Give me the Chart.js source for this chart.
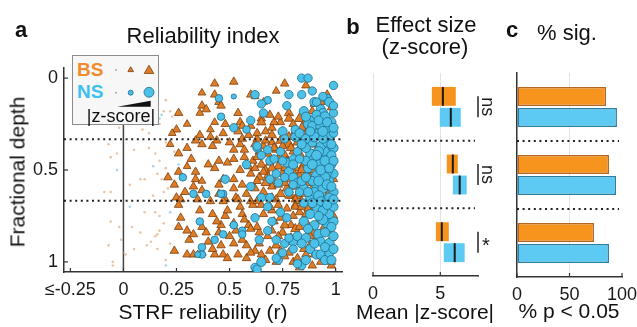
<!DOCTYPE html>
<html><head><meta charset="utf-8">
<script src="https://cdn.jsdelivr.net/npm/chart.js"></script>
<style>
html,body{margin:0;padding:0;background:#fff;}
body{width:637px;height:327px;position:relative;overflow:hidden;font-family:"Liberation Sans",Arial,sans-serif;color:#111;}
canvas{position:absolute;top:0;}
.t{position:absolute;white-space:nowrap;line-height:1;}
.c{transform:translateX(-50%);}
</style></head><body>
<canvas id="ca" width="350" height="327" style="left:0px"></canvas>
<canvas id="cb" width="140" height="327" style="left:360px"></canvas>
<canvas id="cc" width="160" height="327" style="left:500px"></canvas>

<div class="t c" style="left:21px;top:19.4px;font-size:22px;font-weight:bold">a</div>
<div class="t c" style="left:203px;top:25.4px;font-size:22px">Reliability index</div>
<div class="t c" style="left:353px;top:16.4px;font-size:22px;font-weight:bold">b</div>
<div class="t c" style="left:426px;top:14.4px;font-size:22px">Effect size</div>
<div class="t c" style="left:425px;top:36.4px;font-size:22px">(z-score)</div>
<div class="t c" style="left:512px;top:19.4px;font-size:22px;font-weight:bold">c</div>
<div class="t c" style="left:567px;top:22.4px;font-size:22px">% sig.</div>
<div class="t c" style="left:203px;top:300.8px;font-size:21px">STRF reliability (r)</div>
<div class="t c" style="left:425px;top:300.7px;font-size:21px">Mean |z-score|</div>
<div class="t c" style="left:569px;top:300.2px;font-size:21px">% p &lt; 0.05</div>
<div class="t" style="left:17px;top:172px;font-size:21px;transform:translate(-50%,-50%) rotate(-90deg)">Fractional depth</div>

<div id="lg" style="position:absolute;left:72px;top:55px;width:87px;height:70px;box-sizing:border-box;border:1px solid #8c8c8c;background:#f7f7f7;">
  <div class="t" style="left:4px;top:3.9px;font-size:19px;font-weight:bold;color:#f08c2e">BS</div>
  <div class="t" style="left:4px;top:25.9px;font-size:19px;font-weight:bold;color:#40c0ef">NS</div>
  <svg width="85" height="68" style="position:absolute;left:0;top:0">
    <circle cx="43" cy="14" r="1" fill="#aaa"/>
    <polygon points="57.7,10.8 54.9,15.6 60.5,15.6" fill="#df7d26" stroke="#7a3d0c" stroke-width="0.8"/>
    <polygon points="76,9.2 71.24,17.45 80.76,17.45" fill="#df7d26" stroke="#7a3d0c" stroke-width="0.8"/>
    <circle cx="43" cy="36.7" r="1" fill="#aaa"/>
    <circle cx="57.7" cy="36.7" r="2.5" fill="#4cc0e6" stroke="#1d6f8f" stroke-width="0.8"/>
    <circle cx="76" cy="36.3" r="5" fill="#4cc0e6" stroke="#1d6f8f" stroke-width="0.8"/>
    <polygon points="44.3,50.7 77.7,44.7 77.7,50.7" fill="#111"/>
  </svg>
  <div class="t c" style="left:48px;top:50.8px;font-size:18px">|z-score|</div>
</div>

<script>
// ---------- data ----------
const depthGroups = ['Superficial', 'Middle', 'Deep'];
const xTicksA = [-0.25, 0, 0.25, 0.5, 0.75, 1];
const xTickLabelsA = ['\u2264-0.25', '0', '0.25', '0.5', '0.75', '1'];
const yTicksA = [0, 0.5, 1];
const yTickLabelsA = ['0', '0.5', '1'];
const depthBounds = [1/3, 2/3];

// [reliability r, fractional depth, |z-score|]
const bsPoints = [
 [0.43,0.03,6],[0.52,0.02,6],[0.76,0.03,6],[0.86,0.04,6],[0.37,0.08,5],[0.43,0.09,6],[0.60,0.09,6],[0.62,0.10,5],
 [0.45,0.13,6],[0.46,0.15,6],[0.37,0.15,6],[0.39,0.17,6],[0.36,0.19,5],[0.26,0.19,6],[0.54,0.19,6],[0.65,0.22,6],
 [0.78,0.19,7],[0.83,0.22,8],[0.78,0.22,7],[0.74,0.24,6],[0.65,0.24,7],[0.48,0.25,6],[0.55,0.24,6],[0.56,0.26,6],
 [0.41,0.28,5],[0.60,0.26,6],[0.47,0.30,6],[0.67,0.29,6],[0.70,0.31,7],[0.75,0.29,6],[0.86,0.30,7],[0.93,0.13,6],
 [0.90,0.14,6],[0.96,0.09,6],[0.98,0.16,6],[0.89,0.18,6],[0.25,0.28,6],[0.23,0.30,5],[0.95,0.20,6],[0.92,0.25,6],
 [0.97,0.28,6],[0.89,0.27,6],[0.81,0.29,7],[0.70,0.27,6],[0.54,0.29,6],[0.43,0.24,5],[0.30,0.25,5],[0.36,0.31,6],
 [0.66,0.13,5],[0.72,0.07,5],[0.69,0.20,6],[0.41,0.32,6],[0.59,0.31,6],[0.78,0.32,7],[0.88,0.32,6],[0.94,0.31,6],
 [0.44,0.34,6],[0.37,0.36,6],[0.42,0.37,6],[0.52,0.39,6],[0.55,0.36,6],[0.57,0.43,6],[0.45,0.45,6],[0.49,0.46,6],
 [0.43,0.49,6],[0.59,0.48,6],[0.22,0.36,5],[0.26,0.41,6],[0.30,0.38,6],[0.32,0.44,6],[0.34,0.34,6],[0.21,0.54,6],
 [0.26,0.51,6],[0.34,0.51,6],[0.34,0.55,6],[0.33,0.59,6],[0.29,0.62,6],[0.25,0.65,6],[0.47,0.55,6],[0.52,0.55,6],
 [0.56,0.58,6],[0.45,0.58,6],[0.52,0.60,6],[0.37,0.61,6],[0.41,0.67,6],
 [0.62,0.36,6],[0.66,0.37,7],[0.70,0.35,6],[0.74,0.34,7],[0.78,0.36,8],[0.82,0.35,7],[0.86,0.34,6],[0.90,0.36,7],
 [0.95,0.35,6],[0.64,0.40,6],[0.68,0.41,7],[0.72,0.39,6],[0.76,0.42,7],[0.80,0.40,6],[0.84,0.43,7],[0.88,0.41,6],
 [0.93,0.42,6],[0.61,0.45,6],[0.65,0.47,7],[0.69,0.46,6],[0.73,0.48,7],[0.77,0.45,6],[0.81,0.49,7],[0.85,0.47,8],
 [0.89,0.50,7],[0.96,0.48,6],[0.60,0.52,6],[0.64,0.54,7],[0.68,0.53,6],[0.71,0.56,7],[0.75,0.52,6],[0.79,0.55,7],
 [0.83,0.53,6],[0.87,0.57,7],[0.91,0.55,6],[0.62,0.60,6],[0.66,0.62,7],[0.70,0.59,6],[0.74,0.63,7],[0.78,0.61,6],
 [0.82,0.64,7],[0.86,0.60,6],[0.90,0.63,7],[0.94,0.61,6],[0.98,0.65,6],[0.55,0.50,6],[0.52,0.44,6],[0.58,0.63,6],
 [0.48,0.66,6],[0.53,0.65,6],[0.37,0.56,5],[0.40,0.47,6],[0.30,0.48,5],[0.24,0.58,6],[0.27,0.66,6],[0.35,0.66,6],
 [0.45,0.63,6],[0.60,0.67,6],[0.72,0.66,6],[0.84,0.67,6],[0.57,0.39,6],[0.50,0.35,6],[0.63,0.43,6],[0.79,0.38,7],
 [0.92,0.46,6],[0.97,0.58,6],[0.67,0.50,6],[0.73,0.44,6],[0.86,0.52,6],[0.73,0.58,6],[0.77,0.60,7],[0.79,0.64,6],
 [0.81,0.66,6],[0.83,0.73,6],[0.80,0.75,6],
 [0.55,0.70,6],[0.48,0.75,6],[0.46,0.80,6],[0.37,0.81,6],[0.52,0.79,6],[0.64,0.84,6],[0.40,0.89,6],[0.46,0.91,6],
 [0.52,0.90,6],[0.43,0.96,6],[0.58,0.91,6],[0.62,0.94,6],[0.65,0.96,6],[0.98,1.00,6],[0.83,1.03,6],[0.26,0.69,6],
 [0.27,0.76,6],[0.26,0.81,6],[0.30,0.83,6],[0.31,0.88,6],[0.24,0.94,6],[0.30,0.96,6],[0.33,0.96,6],[0.35,0.96,5],
 [0.47,0.67,6],[0.54,0.66,6],[0.61,0.69,6],[0.63,0.67,6],[0.70,0.65,6],[0.59,0.80,6],[0.60,0.82,6],[0.63,0.81,6],
 [0.47,0.96,6],[0.37,0.95,6],[0.72,0.91,7],[0.74,0.94,6],[0.79,0.87,7],[0.83,0.89,6],[0.88,0.91,7],[0.90,0.96,6],
 [0.95,0.98,6],[0.79,0.80,6],[0.81,0.82,7],[0.85,0.78,6],[0.89,0.84,7],[0.92,0.85,6],[0.93,0.89,6],[0.78,0.64,6],
 [0.81,0.69,6],[0.70,0.72,6],[0.74,0.76,6],[0.66,0.74,6],[0.86,0.74,6],[0.95,0.72,6],[0.92,0.78,6],[0.97,0.83,6],
 [0.68,0.86,6],[0.75,0.84,7],[0.78,0.95,6],[0.86,0.96,6],[0.93,1.00,6],[0.72,1.00,6],[0.58,0.98,6],[0.88,0.86,6],
 [0.96,0.92,6],[0.99,0.75,6],[0.64,0.90,6],[0.81,0.70,6],[0.90,0.70,6],[0.56,0.74,6],[0.42,0.74,6],[0.50,0.86,6],
 [0.54,0.96,6],[0.98,1.02,6],[0.89,1.02,6],[0.80,1.00,6],[0.36,0.72,6],[0.33,0.85,6],[0.45,0.84,6],
 [0.63,0.33,6],[0.67,0.34,6],[0.71,0.38,7],[0.75,0.37,6],[0.83,0.38,6],[0.87,0.44,7],[0.91,0.39,6],[0.97,0.41,6],
 [0.62,0.49,6],[0.66,0.51,6],[0.70,0.49,7],[0.76,0.49,6],[0.80,0.51,6],[0.84,0.50,7],[0.88,0.54,6],[0.93,0.52,6],
 [0.99,0.55,6],[0.63,0.56,6],[0.67,0.57,7],[0.76,0.57,6],[0.81,0.59,7],[0.85,0.63,6],[0.89,0.60,6],[0.93,0.64,7],
 [0.97,0.62,6],[0.65,0.69,6],[0.69,0.70,7],[0.73,0.69,6],[0.77,0.71,6],[0.84,0.70,7],[0.87,0.71,6],[0.93,0.75,6],
 [0.96,0.77,7],[0.71,0.78,6],[0.76,0.80,7],[0.83,0.81,6],[0.87,0.80,6],[0.94,0.82,6],[0.98,0.87,6],[0.70,0.83,6],
 [0.73,0.86,6],[0.77,0.89,6],[0.85,0.93,6],[0.91,0.88,6],[0.95,0.94,6],[0.69,0.94,6],[0.76,0.97,6],[0.82,0.98,6],
 [0.67,0.99,6],[0.60,0.95,6],[0.56,0.88,6],[0.53,0.83,6],[0.57,0.77,6],[0.49,0.72,6],[0.44,0.78,6],[0.39,0.84,6],
 [0.42,0.93,6],[0.49,0.98,6],[0.71,0.24,6],[0.80,0.25,6],[0.84,0.27,7],[0.73,0.21,6],[0.86,0.23,6],[0.91,0.22,6],
 [0.63,0.30,6],[0.56,0.33,6]
];
const nsPoints = [
 [0.84,0.00,6],[0.87,0.00,6],[0.99,0.04,6],[0.89,0.07,6],[0.78,0.09,6],[0.84,0.09,6],[0.96,0.11,6],[0.45,0.11,5],
 [0.62,0.09,6],[0.68,0.12,5],[0.65,0.14,6],[0.77,0.15,6],[0.90,0.13,7],[0.66,0.19,6],[0.85,0.18,7],[0.46,0.21,5],
 [0.60,0.23,6],[0.52,0.27,6],[0.58,0.28,5],[0.88,0.23,7],[0.87,0.25,7],[0.91,0.13,6],[0.93,0.17,7],[0.94,0.19,7],
 [0.91,0.20,7],[0.95,0.21,8],[0.98,0.24,7],[0.89,0.26,7],[0.93,0.26,8],[0.96,0.28,7],[0.99,0.19,6],[0.92,0.30,7],
 [0.97,0.32,8],[0.75,0.29,7],[0.81,0.32,7],[0.76,0.33,6],[0.81,0.28,6],[0.83,0.30,7],[0.99,0.30,6],[0.52,0.10,2],
 [0.63,0.38,6],[0.63,0.37,6],[0.68,0.39,6],[0.65,0.42,6],[0.69,0.45,6],[0.77,0.46,7],[0.80,0.44,6],[0.88,0.41,7],
 [0.90,0.44,8],[0.93,0.43,8],[0.95,0.40,7],[0.99,0.38,7],[0.97,0.44,8],[0.94,0.48,8],[0.99,0.52,7],[0.91,0.53,8],
 [0.87,0.49,7],[0.92,0.47,8],[0.78,0.51,7],[0.80,0.54,7],[0.69,0.55,6],[0.48,0.55,6],[0.28,0.54,5],[0.39,0.63,5],
 [0.47,0.63,5],[0.69,0.65,6],[0.82,0.57,7],[0.85,0.60,7],[0.78,0.62,6],[0.91,0.58,8],[0.94,0.60,8],[0.97,0.56,7],
 [0.99,0.62,7],[0.88,0.65,7],[0.95,0.66,7],[0.86,0.38,7],[0.82,0.40,6],[0.74,0.40,6],[0.89,0.35,7],[0.93,0.37,7],
 [0.96,0.35,7],[0.98,0.47,7],[0.33,0.63,5],[0.84,0.56,7],[0.96,0.51,8],[0.90,0.62,7],[0.98,0.42,7],[0.73,0.57,6],
 [0.92,0.40,8],[0.95,0.54,8],[0.89,0.56,7],
 [0.36,0.78,5],[0.56,0.83,5],[0.64,0.88,6],[0.68,0.83,6],[0.74,0.73,6],[0.77,0.76,6],[0.72,0.88,6],[0.80,0.89,7],
 [0.76,0.90,6],[0.82,0.86,7],[0.86,0.87,7],[0.88,0.93,7],[0.92,0.85,8],[0.93,0.89,7],[0.97,0.90,8],[0.96,0.79,8],
 [0.99,0.78,7],[0.97,0.74,7],[0.73,0.99,6],[0.62,1.03,6],[0.63,1.04,6],[0.37,0.96,5],[0.91,0.96,7],[0.93,0.96,7],
 [0.65,0.65,6],[0.62,0.76,6],[0.52,0.80,5],[0.47,0.85,5],[0.43,0.88,5],[0.78,0.87,6],[0.65,1.00,7],[0.84,1.02,6],
 [0.37,0.92,5],[0.35,0.96,3],[0.72,0.98,6],[0.91,0.70,7],[0.94,0.72,7],[0.99,0.70,7],[0.88,0.74,7],[0.85,0.78,7],
 [0.90,0.80,7],[0.95,0.99,7],[0.97,0.95,7],[0.56,0.85,5],[0.46,0.63,5],
 [0.86,0.33,7],[0.90,0.32,8],[0.94,0.33,7],[0.98,0.36,7],[0.84,0.36,7],[0.91,0.42,8],[0.95,0.45,8],[0.99,0.45,7],
 [0.86,0.45,7],[0.89,0.47,8],[0.93,0.50,8],[0.97,0.49,7],[0.86,0.54,7],[0.92,0.56,8],[0.96,0.58,8],[0.98,0.59,7],
 [0.87,0.62,7],[0.92,0.64,8],[0.97,0.65,7],[0.93,0.67,7],[0.96,0.69,7],[0.89,0.68,7],[0.85,0.68,6],[0.83,0.62,6],
 [0.80,0.58,6],[0.76,0.54,6],[0.72,0.52,6],[0.71,0.44,6],[0.75,0.45,6],[0.80,0.47,7],[0.83,0.44,6],[0.97,0.13,7],
 [0.94,0.10,6],[0.99,0.15,6],[0.92,0.23,7],[0.96,0.24,7],[0.94,0.29,8],[0.88,0.29,7],[0.86,0.21,7],[0.99,0.27,7],
 [0.98,0.81,7],[0.94,0.77,8],[0.92,0.75,7],[0.95,0.84,7],[0.99,0.86,7],[0.90,0.90,7],[0.95,0.92,7],[0.99,0.93,7],
 [0.87,0.82,7],[0.84,0.90,7],[0.80,0.93,6],[0.75,0.95,6],[0.98,0.99,7],[0.86,0.99,7],[0.82,1.01,6],[0.70,0.78,6],
 [0.68,0.70,6],[0.60,0.59,6],[0.58,0.47,6],[0.99,0.66,7]
];
// non-significant units (faint dots): [r, depth]
const bsFaint = [
 [-0.09,0.62],[-0.06,0.62],[-0.06,0.78],[-0.07,0.91],[-0.05,1.00],[-0.05,1.02],[-0.02,0.81],[-0.01,0.88],
 [0.03,0.58],[0.04,0.81],[0.08,0.55],[0.10,0.55],[0.08,0.84],[0.05,0.93],[0.11,0.91],[0.13,0.89],[0.15,0.86],
 [0.16,0.93],[0.20,0.99],[0.01,0.96],[0.10,0.73],[0.15,0.73],[0.17,0.75],[0.19,0.79],[0.17,0.83],[0.16,0.85],
 [0.22,0.90],[0.19,0.18],[0.22,0.18],[0.17,0.25],[0.09,0.28],[0.12,0.30],[0.20,0.35],[0.15,0.41],[0.17,0.45],
 [0.20,0.49],[0.12,0.38],[-0.06,0.43],[-0.03,0.41],[-0.07,0.36],[0.16,0.52],[0.18,0.55],[0.24,0.40],[0.05,0.39],
 [-0.02,0.27],[0.00,0.95],[0.19,0.62],[0.21,0.60],[0.14,0.64],[0.23,0.21],[0.20,0.12],[0.25,0.57]
];
const nsFaint = [
 [0.20,1.02],[0.18,0.20],[0.03,0.70],[0.26,0.47],[0.22,0.73],[-0.03,0.50],[0.12,0.16],[0.14,0.48],[0.17,0.22]
];

// panel b: effect size (mean |z-score|), box extent and mean
const effLowBS  = [4.37, 5.48, 4.67];
const effHighBS = [6.15, 6.30, 5.63];
const effMeanBS = [5.19, 5.93, 5.11];
const effLowNS  = [4.96, 5.93, 5.26];
const effHighNS = [6.52, 6.96, 6.81];
const effMeanNS = [5.78, 6.44, 6.07];
const sigLabels = ['ns', 'ns', '*'];
const xTicksB = [0, 5];

// panel c: % significant
const pctSigBS = [84.8, 87.6, 73.3];
const pctSigNS = [95.2, 94.3, 87.6];
const xTicksC = [0, 50, 100];

// ---------- styles ----------
const TRI_FILL = '#df7d26', TRI_BORDER = '#7a3d0c';
const CIR_FILL = '#4cc0e6', CIR_BORDER = '#1d6f8f';
const BOX_BS = '#f7941e', BOX_NS = '#5ccaf3';
const BAR_BS_BORDER = '#b5651d', BAR_NS_BORDER = '#2b7fa3';
const AX = '#333';

Chart.defaults.font.family = '"Liberation Sans", Arial, sans-serif';
Chart.defaults.color = '#1a1a1a';
Chart.defaults.animation = false;

const toXY = arr => arr.map(p => ({x: p[0], y: p[1]}));
const tickFont = {size: 18};

const inTicks = {
  id: 'inTicks',
  afterDraw(chart, args, opts) {
    const ctx = chart.ctx;
    ctx.save();
    ctx.strokeStyle = AX; ctx.lineWidth = 1.2;
    (opts.axes || []).forEach(id => {
      const s = chart.scales[id];
      s.ticks.forEach(t => {
        const p = s.getPixelForValue(t.value);
        ctx.beginPath();
        if (s.isHorizontal()) { ctx.moveTo(p, s.top); ctx.lineTo(p, s.top - 4); }
        else { ctx.moveTo(s.right, p); ctx.lineTo(s.right + 4, p); }
        ctx.stroke();
      });
    });
    ctx.restore();
  }
};

function dotted(ctx, x0, x1, y) {
  ctx.save();
  ctx.strokeStyle = '#222'; ctx.lineWidth = 2; ctx.setLineDash([2, 3.6]);
  ctx.beginPath(); ctx.moveTo(x0, y); ctx.lineTo(x1, y); ctx.stroke();
  ctx.restore();
}

const guidesA = {
  id: 'guidesA',
  beforeDatasetsDraw(chart) {
    const {ctx, chartArea: a} = chart;
    const px = chart.scales.x.getPixelForValue(0);
    ctx.save(); ctx.strokeStyle = '#444'; ctx.lineWidth = 1.5;
    ctx.beginPath(); ctx.moveTo(px, a.top); ctx.lineTo(px, a.bottom); ctx.stroke();
    ctx.restore();
  },
  afterDatasetsDraw(chart) {
    const {ctx, chartArea: a} = chart;
    depthBounds.forEach(d => dotted(ctx, a.left, a.right, chart.scales.y.getPixelForValue(d)));
  }
};

function groupSeparators(chart) {
  const ys = chart.scales.y, a = chart.chartArea;
  for (let i = 0; i < depthGroups.length - 1; i++) {
    const y = (ys.getPixelForValue(i) + ys.getPixelForValue(i + 1)) / 2;
    dotted(chart.ctx, a.left, a.right - 3, y);
  }
}

const marksB = {
  id: 'marksB',
  afterDatasetsDraw(chart) {
    const ctx = chart.ctx, xs = chart.scales.x, a = chart.chartArea;
    groupSeparators(chart);
    [effMeanBS, effMeanNS].forEach((means, di) => {
      chart.getDatasetMeta(di).data.forEach((bar, j) => {
        const px = xs.getPixelForValue(means[j]);
        ctx.save(); ctx.strokeStyle = '#1a1a1a'; ctx.lineWidth = 2;
        ctx.beginPath(); ctx.moveTo(px, bar.y - bar.height / 2); ctx.lineTo(px, bar.y + bar.height / 2); ctx.stroke();
        ctx.restore();
      });
    });
    const m0 = chart.getDatasetMeta(0), m1 = chart.getDatasetMeta(1);
    sigLabels.forEach((lab, j) => {
      const y0 = m0.data[j].y, y1 = m1.data[j].y, bx = a.right;
      ctx.save();
      ctx.strokeStyle = '#222'; ctx.lineWidth = 1.5;
      ctx.beginPath(); ctx.moveTo(bx, y0); ctx.lineTo(bx, y1); ctx.stroke();
      ctx.fillStyle = '#1a1a1a';
      const cy = (y0 + y1) / 2;
      if (lab === '*') {
        ctx.font = '20px "Liberation Sans", Arial, sans-serif';
        ctx.textAlign = 'center'; ctx.textBaseline = 'alphabetic';
        ctx.fillText(lab, bx + 8, cy + 10);
      } else {
        ctx.font = '18px "Liberation Sans", Arial, sans-serif';
        ctx.translate(bx + 9, cy); ctx.rotate(Math.PI / 2);
        ctx.textAlign = 'center'; ctx.textBaseline = 'middle';
        ctx.fillText(lab, 0, 0);
      }
      ctx.restore();
    });
  }
};

const marksC = {
  id: 'marksC',
  afterDatasetsDraw(chart) { groupSeparators(chart); }
};

// ---------- panel a ----------
new Chart(document.getElementById('ca'), {
  type: 'scatter',
  data: { datasets: [
    { label: 'NS', data: toXY(nsPoints), pointStyle: 'circle',
      pointRadius: nsPoints.map(p => 1.8 + 0.4 * p[2]),
      pointBackgroundColor: CIR_FILL, pointBorderColor: CIR_BORDER, pointBorderWidth: 0.8, order: 1 },
    { label: 'BS', data: toXY(bsPoints), pointStyle: 'triangle',
      pointRadius: bsPoints.map(p => 2.2 + 0.45 * p[2]),
      pointBackgroundColor: TRI_FILL, pointBorderColor: TRI_BORDER, pointBorderWidth: 0.8, order: 2 },
    { label: 'BS n.s.', data: toXY(bsFaint), pointRadius: 1.3,
      pointBackgroundColor: 'rgba(214,150,100,0.55)', pointBorderWidth: 0, order: 3 },
    { label: 'NS n.s.', data: toXY(nsFaint), pointRadius: 1.3,
      pointBackgroundColor: 'rgba(110,180,215,0.6)', pointBorderWidth: 0, order: 3 }
  ]},
  options: {
    responsive: false, animation: false, events: [],
    layout: { padding: { top: 68, right: 8, left: 0, bottom: 0 } },
    plugins: { legend: {display: false}, tooltip: {enabled: false}, inTicks: {axes: ['x', 'y']} },
    scales: {
      x: { type: 'linear', min: -0.28, max: 1.03,
        afterFit: s => { s.height = 55; },
        afterBuildTicks: s => { s.ticks = xTicksA.map(v => ({value: v})); },
        ticks: { callback: (v, i) => xTickLabelsA[i], font: tickFont, padding: 7, autoSkip: false, maxRotation: 0, minRotation: 0 },
        grid: { display: false, drawTicks: false },
        border: { display: true, color: AX, width: 1.5 } },
      y: { type: 'linear', reverse: true, min: -0.055, max: 1.055,
        afterFit: s => { s.width = 64; },
        afterBuildTicks: s => { s.ticks = yTicksA.map(v => ({value: v})); },
        ticks: { callback: (v, i) => yTickLabelsA[i], font: tickFont, padding: 6, autoSkip: false },
        grid: { display: false, drawTicks: false },
        border: { display: true, color: AX, width: 1.5 } }
    }
  },
  plugins: [guidesA, inTicks]
});

// ---------- panel b ----------
new Chart(document.getElementById('cb'), {
  type: 'bar',
  data: { labels: depthGroups, datasets: [
    { label: 'BS', data: depthGroups.map((g, i) => [effLowBS[i], effHighBS[i]]), backgroundColor: BOX_BS,
      borderWidth: 0, categoryPercentage: 0.62, barPercentage: 0.9 },
    { label: 'NS', data: depthGroups.map((g, i) => [effLowNS[i], effHighNS[i]]), backgroundColor: BOX_NS,
      borderWidth: 0, categoryPercentage: 0.62, barPercentage: 0.9 }
  ]},
  options: {
    indexAxis: 'y', responsive: false, animation: false, events: [],
    layout: { padding: { left: 13, right: 22, top: 73, bottom: 0 } },
    plugins: { legend: {display: false}, tooltip: {enabled: false}, inTicks: {axes: ['x']} },
    scales: {
      x: { type: 'linear', min: 0, max: 7.8,
        afterFit: s => { s.height = 51; },
        afterBuildTicks: s => { s.ticks = xTicksB.map(v => ({value: v})); },
        ticks: { callback: v => String(v), font: tickFont, padding: 7, autoSkip: false, maxRotation: 0 },
        grid: { display: true, drawTicks: false, color: '#e3e3e3', lineWidth: 1 },
        border: { display: true, color: AX, width: 1.5 } },
      y: { type: 'category', display: false }
    }
  },
  plugins: [marksB, inTicks]
});

// ---------- panel c ----------
new Chart(document.getElementById('cc'), {
  type: 'bar',
  data: { labels: depthGroups, datasets: [
    { label: 'BS', data: pctSigBS, backgroundColor: BOX_BS, borderColor: BAR_BS_BORDER, borderWidth: 1.5,
      borderSkipped: false, categoryPercentage: 0.62, barPercentage: 0.9 },
    { label: 'NS', data: pctSigNS, backgroundColor: BOX_NS, borderColor: BAR_NS_BORDER, borderWidth: 1.5,
      borderSkipped: false, categoryPercentage: 0.62, barPercentage: 0.9 }
  ]},
  options: {
    indexAxis: 'y', responsive: false, animation: false, events: [],
    layout: { padding: { left: 17, right: 38, top: 73, bottom: 0 } },
    plugins: { legend: {display: false}, tooltip: {enabled: false}, inTicks: {axes: ['x']} },
    scales: {
      x: { type: 'linear', min: 0, max: 100,
        afterFit: s => { s.height = 50; },
        afterBuildTicks: s => { s.ticks = xTicksC.map(v => ({value: v})); },
        ticks: { callback: v => String(v), font: tickFont, padding: 7, autoSkip: false, maxRotation: 0 },
        grid: { display: true, drawTicks: false, lineWidth: 1,
          color: c => (c.tick && c.tick.value === 50) ? '#e3e3e3' : 'rgba(0,0,0,0)' },
        border: { display: true, color: AX, width: 1.5 } },
      y: { type: 'category', display: true,
        afterFit: s => { s.width = 0; },
        ticks: { display: false }, grid: { display: false, drawTicks: false },
        border: { display: true, color: AX, width: 1.5 } }
    }
  },
  plugins: [marksC, inTicks]
});
</script>
</body></html>
